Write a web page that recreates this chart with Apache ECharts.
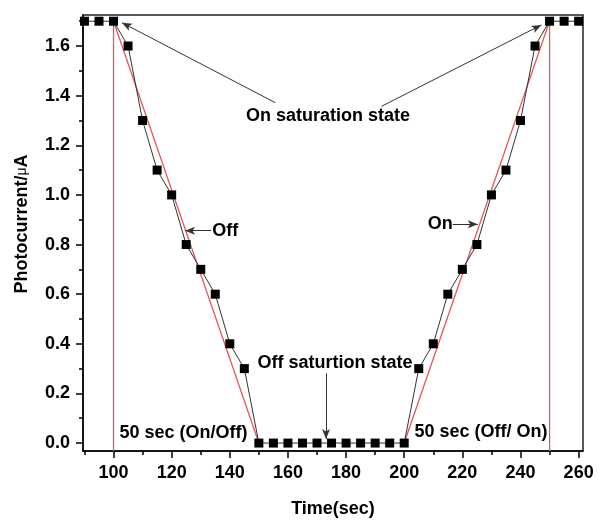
<!DOCTYPE html>
<html><head><meta charset="utf-8">
<script src="https://cdn.jsdelivr.net/npm/echarts@6/dist/echarts.min.js"></script>
<style>html,body{margin:0;padding:0;background:#fff}#c{width:605px;height:523px}</style>
</head><body><div id="c"></div>
<script>
// ---- data ----
const timeSec = [90,95,100,105,110,115,120,125,130,135,140,145,150,155,160,165,170,175,180,185,190,195,200,205,210,215,220,225,230,235,240,245,250,255,260];
const photocurrent = [1.7,1.7,1.7,1.6,1.3,1.1,1.0,0.8,0.7,0.6,0.4,0.3,0.0,0.0,0.0,0.0,0.0,0.0,0.0,0.0,0.0,0.0,0.0,0.3,0.4,0.6,0.7,0.8,1.0,1.1,1.3,1.6,1.7,1.7,1.7];
const xRange = [89.5, 261.5];
const yRange = [-0.032, 1.725];
const xLabelTicks = [100,120,140,160,180,200,220,240,260];
const xMinorTicks = [90,110,130,150,170,190,210,230,250];
const yLabelTicks = [0,0.2,0.4,0.6,0.8,1.0,1.2,1.4,1.6];
const yMinorTicks = [0.1,0.3,0.5,0.7,0.9,1.1,1.3,1.5,1.7];
// red guide lines
const redOffFit = [[100,1.7],[150,0]];
const redOnFit = [[200,0],[250,1.7]];
const redMark100 = [[100,1.7],[100,yRange[0]]];
const redMark250 = [[250,1.7],[250,yRange[0]]];
// annotation arrows: [from, to] in data coords
const arrows = [
  [[155.6,1.372],[102.9,1.694]],
  [[192.2,1.357],[247.2,1.685]],
  [[133.6,0.856],[124.6,0.856]],
  [[216.7,0.882],[225.3,0.882]],
  [[173.1,0.281],[173.1,0.016]]
];
const labels = [
  {text:'On saturation state', at:[173.8,1.316], align:'center'},
  {text:'Off', at:[134.0,0.856], align:'left'},
  {text:'On', at:[216.7,0.882], align:'right'},
  {text:'Off saturtion state', at:[176.2,0.321], align:'center'},
  {text:'50 sec (On/Off)', at:[124.1,0.040], align:'center'},
  {text:'50 sec (Off/ On)', at:[226.4,0.044], align:'center'}
];

const FONT = 'Liberation Sans, Arial, sans-serif';
const chart = echarts.init(document.getElementById('c'), null, {renderer:'canvas'});
const redStyle = {color:'#e05a5a', width:1.3};
function redSeries(d){return {type:'line', data:d, symbol:'none', silent:true, z:1, lineStyle:redStyle, animation:false};}

chart.setOption({
  animation:false,
  backgroundColor:'#fff',
  grid:{left:83, right:22, top:15, bottom:70, show:true, borderColor:'#222', borderWidth:1.5, backgroundColor:'transparent'},
  xAxis:[{
    type:'value', min:xRange[0], max:xRange[1],
    axisLine:{show:true, onZero:false, lineStyle:{color:'#000', width:1.5}},
    axisTick:{show:true, customValues:xLabelTicks, inside:false, length:7, lineStyle:{color:'#000', width:1.5}},
    axisLabel:{customValues:xLabelTicks, color:'#000', fontSize:18, fontWeight:'bold', fontFamily:FONT, margin:13},
    splitLine:{show:false},
    name:'Time(sec)', nameLocation:'middle', nameGap:49,
    nameTextStyle:{color:'#000', fontSize:18, fontWeight:'bold', fontFamily:FONT}
  },{
    type:'value', min:xRange[0], max:xRange[1], position:'bottom',
    axisLine:{show:false, onZero:false},
    axisTick:{show:true, customValues:xMinorTicks, inside:false, length:4, lineStyle:{color:'#000', width:1.5}},
    axisLabel:{show:false}, splitLine:{show:false}
  }],
  yAxis:[{
    type:'value', min:yRange[0], max:yRange[1],
    axisLine:{show:true, onZero:false, lineStyle:{color:'#000', width:1.5}},
    axisTick:{show:true, customValues:yLabelTicks, inside:false, length:7, lineStyle:{color:'#000', width:1.5}},
    axisLabel:{customValues:yLabelTicks, color:'#000', fontSize:18, fontWeight:'bold', fontFamily:FONT, margin:13,
      formatter:v=>v.toFixed(1)},
    splitLine:{show:false},
    name:'Photocurrent/{mu|μ}A', nameLocation:'middle', nameGap:52,
    nameTextStyle:{color:'#000', fontSize:18, fontWeight:'bold', fontFamily:FONT, padding:[0,0,0,18],
      rich:{mu:{fontSize:14, fontWeight:'normal', fontFamily:FONT, color:'#000'}}}
  },{
    type:'value', min:yRange[0], max:yRange[1], position:'left',
    axisLine:{show:false, onZero:false},
    axisTick:{show:true, customValues:yMinorTicks, inside:false, length:4, lineStyle:{color:'#000', width:1.5}},
    axisLabel:{show:false}, splitLine:{show:false}
  }],
  series:[
    redSeries(redMark100), redSeries(redMark250), redSeries(redOffFit), redSeries(redOnFit),
    {
      type:'line', data:timeSec.map((t,i)=>[t,photocurrent[i]]), z:3,
      symbol:'rect', symbolSize:9, showAllSymbol:true,
      itemStyle:{color:'#000'}, lineStyle:{color:'#333', width:1},
      markLine:{
        silent:true, animation:false, symbolSize:[6,10],
        label:{show:false},
        lineStyle:{color:'#333', width:1, type:'solid'},
        data:arrows.map(a=>[{coord:a[0], symbol:'none'},{coord:a[1], symbol:'arrow'}])
      }
    }
  ]
});

const g = labels.map(l=>{
  const p = chart.convertToPixel({xAxisIndex:0, yAxisIndex:0}, l.at);
  return {type:'text', x:p[0], y:p[1], z:10,
    style:{text:l.text, fill:'#000', font:'bold 18px '+FONT, textAlign:l.align, textVerticalAlign:'middle'}};
});
chart.setOption({graphic:g});
</script></body></html>
